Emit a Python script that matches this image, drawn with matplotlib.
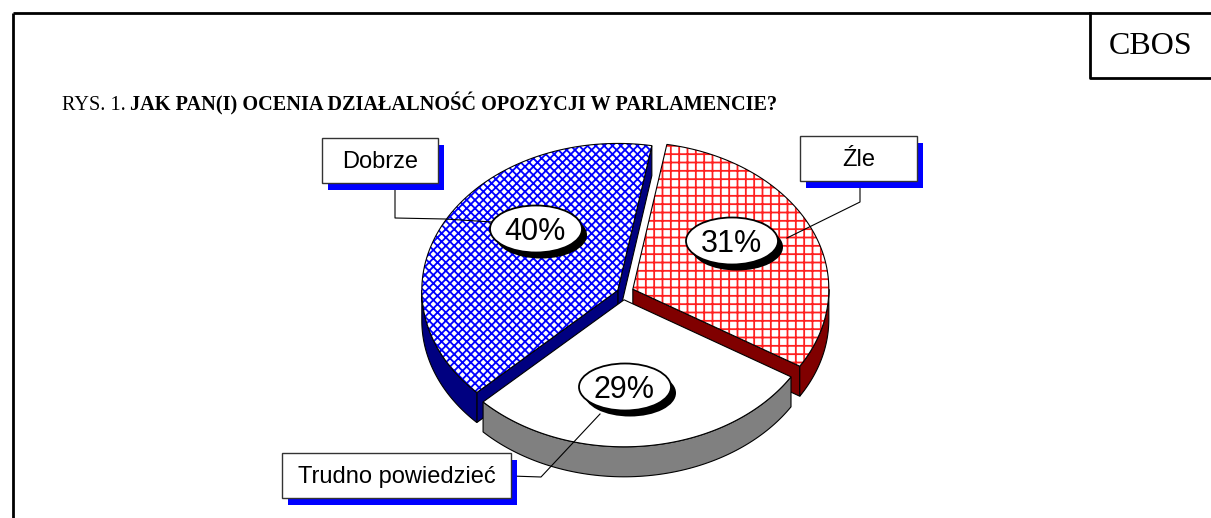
import numpy as np
import matplotlib.pyplot as plt
from matplotlib.patches import Polygon, Ellipse, Rectangle

# dane z wykresu
categories = ['Dobrze', 'Źle', 'Trudno powiedzieć']
values = [40, 31, 29]

title_prefix = 'RYS. 1.'
title_main = 'JAK PAN(I) OCENIA DZIAŁALNOŚĆ OPOZYCJI W PARLAMENCIE?'
source = 'CBOS'

# wyglad plastrow
top_hatch = ['xxxx', '++', '']
hatch_col = ['#0000ff', '#ff2020', 'white']
side_col = ['#000080', '#800000', '#808080']
explode = [0.03, 0.055, 0.05]

# geometria tortu 3D (w pikselach)
cx, cy = 623, 292.5
a, b = 196, 147
depth = 30
start = 224  # kat startowy, plastry zgodnie z ruchem wskazowek

# pozycje etykiet
pct_pos = [(536, 229), (732, 241), (625, 387)]
box_pos = [(322, 138, 438, 183), (800, 136, 917, 181), (282, 453, 511, 498)]
leaders = [
    [(395, 183), (395, 218), (445, 219), (492, 222)],
    [(860, 181), (860, 202), (787, 238)],
    [(511, 476), (541, 477), (600, 414)],
]

plt.rcParams['hatch.linewidth'] = 1.3
plt.rcParams['font.family'] = ['Liberation Sans', 'DejaVu Sans']

fig = plt.figure(figsize=(12.11, 5.18), dpi=100)
ax = fig.add_axes([0, 0, 1, 1])
ax.set_xlim(0, 1211)
ax.set_ylim(518, 0)
ax.axis('off')


def arc(t0, t1, ox, oy, dz=0, n=90):
    r = np.radians(np.linspace(t0, t1, n))
    return np.column_stack([cx + ox + a * np.cos(r), cy + oy - b * np.sin(r) + dz])


total = sum(values)
hi = start
for i, v in enumerate(values):
    lo = hi - v / total * 360
    mid = np.radians((lo + hi) / 2)
    ox = explode[i] * a * np.cos(mid)
    oy = -explode[i] * b * np.sin(mid)
    vtx = np.array([cx + ox, cy + oy])
    down = np.array([0, depth])

    # sciany promieniowe (widoczne tylko te zwrocone do widza)
    for t, nrm in ((lo, lo - 90), (hi, hi + 90)):
        if np.sin(np.radians(nrm)) < 0:
            p = arc(t, t, ox, oy, n=1)[0]
            quad = [vtx, p, p + down, vtx + down]
            ax.add_patch(Polygon(quad, facecolor=side_col[i], edgecolor='black',
                                 lw=0.8, zorder=1))

    # bok (przednia czesc obwodu)
    for k in (0, 1):
        r0 = max(lo, -180 + 360 * k)
        r1 = min(hi, 360 * k)
        if r1 > r0:
            rim = np.vstack([arc(r0, r1, ox, oy), arc(r1, r0, ox, oy, dz=depth)])
            ax.add_patch(Polygon(rim, facecolor=side_col[i], edgecolor='black',
                                 lw=0.8, zorder=2))

    # wierzch plastra
    top = np.vstack([vtx, arc(lo, hi, ox, oy)])
    ax.add_patch(Polygon(top, facecolor='white', edgecolor=hatch_col[i],
                         hatch=top_hatch[i], lw=0, zorder=3))
    ax.add_patch(Polygon(top, fill=False, edgecolor='black', lw=0.8, zorder=3.1))
    hi = lo

# etykiety procentowe, linie odniesienia i ramki z nazwami
for i, v in enumerate(values):
    ex, ey = pct_pos[i]
    ax.add_patch(Ellipse((ex + 5, ey + 6), 92, 47, facecolor='black', zorder=5))
    ax.add_patch(Ellipse((ex, ey), 92, 47, facecolor='white', edgecolor='black',
                         lw=1.3, zorder=5.1))
    ax.text(ex - 1, ey + 3, f'{v}%', fontsize=22, ha='center', va='center', zorder=5.2)

    xs, ys = zip(*leaders[i])
    ax.plot(xs, ys, color='black', lw=0.8, zorder=4)

    x0, y0, x1, y1 = box_pos[i]
    ax.add_patch(Rectangle((x0 + 6, y0 + 7), x1 - x0, y1 - y0, facecolor='#0000ff',
                           edgecolor='none', zorder=6))
    ax.add_patch(Rectangle((x0, y0), x1 - x0, y1 - y0, facecolor='white',
                           edgecolor='#333333', lw=1.0, zorder=6.1))
    ax.text((x0 + x1) / 2, (y0 + y1) / 2 + 1, categories[i], fontsize=17,
            ha='center', va='center', zorder=6.2)

# ramka strony i pole CBOS
ax.plot([13, 1211], [13, 13], color='black', lw=2, solid_capstyle='butt')
ax.plot([13, 13], [13, 518], color='black', lw=2, solid_capstyle='butt')
ax.plot([1090, 1090, 1211], [13, 78, 78], color='black', lw=2)
ax.text(1151, 46, source, fontsize=23, family='Liberation Serif',
        ha='center', va='center')

# tytul: czesc zwykla + pogrubiona
t1 = ax.text(62, 110, title_prefix, fontsize=14.6, family='Liberation Serif',
             va='baseline', ha='left')
fig.canvas.draw()
bb = t1.get_window_extent(renderer=fig.canvas.get_renderer())
ax.text(bb.x1 + 4.5, 110, title_main, fontsize=14.6, family='Liberation Serif',
        fontweight='bold', va='baseline', ha='left')

fig.savefig('out.png', dpi=100)
